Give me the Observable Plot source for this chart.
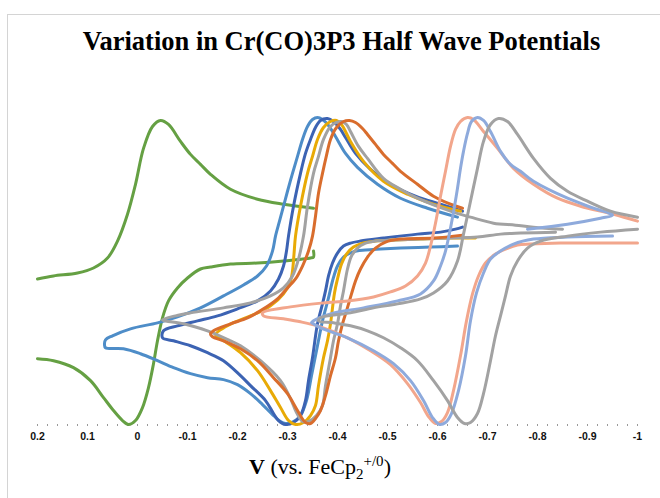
<!DOCTYPE html>
<html>
<head>
<meta charset="utf-8">
<script src="https://cdn.jsdelivr.net/npm/d3@7"></script>
<script src="https://cdn.jsdelivr.net/npm/@observablehq/plot@0.6"></script>
<style>
  html, body { margin: 0; padding: 0; background: #fff; }
  #wrap { position: relative; width: 660px; height: 498px; overflow: hidden; background: #fff; }
  #frame { position: absolute; left: 7px; top: 14px; width: 800px; height: 700px;
           border-left: 1px solid #d4d4d4; border-top: 1px solid #d4d4d4; pointer-events: none; }
  #title { position: relative; height: 70px; box-sizing: border-box; padding-top: 27px; padding-left: 23px;
           text-align: center; font: bold 26.5px/28px "Liberation Serif", "Times New Roman", serif; color: #000; }
  #chart { position: relative; height: 385px; }
  #xlabel { position: relative; height: 43px; box-sizing: border-box; padding-right: 20px; padding-top: 0px; text-align: center;
            font: 22px/24px "Liberation Serif", "Times New Roman", serif; color: #000; }
  #xlabel sub, #xlabel sup { font-size: 15px; line-height: 0; }
</style>
</head>
<body>
<div id="wrap">
  <div id="frame"></div>
  <div id="title">Variation in Cr(CO)3P3 Half Wave Potentials</div>
  <div id="chart"></div>
  <div id="xlabel"><b>V</b> (vs. FeCp<sub>2</sub><sup>+/0</sup>)</div>
</div>
<script>
// Potential (V vs FeCp2+/0), current (arbitrary units)
const greenReturn = [[-0.352,20],[-0.352,14],[-0.346,13],[-0.292,10],[-0.24,8],[-0.186,7],[-0.146,4],[-0.126,2],[-0.1,-7],[-0.08,-17],[-0.062,-30],[-0.05,-47],[-0.04,-70],[-0.032,-93],[-0.022,-117],[-0.01,-137],[0.004,-150],[0.018,-154],[0.03,-150],[0.048,-140],[0.068,-127],[0.094,-110],[0.128,-97],[0.168,-90],[0.2,-88]];
const greenForward = [[0.2,-8],[0.168,-5],[0.12,-2],[0.088,3],[0.06,13],[0.04,30],[0.02,57],[0.004,87],[-0.012,123],[-0.03,145],[-0.046,151],[-0.062,147],[-0.086,130],[-0.106,117],[-0.126,107],[-0.146,97],[-0.186,82],[-0.24,72],[-0.292,67],[-0.352,63]];

const cvLightBlue = [[-0.64,25],[-0.586,24],[-0.526,23],[-0.486,22],[-0.456,21],[-0.43,19],[-0.412,14],[-0.4,5],[-0.39,-10],[-0.382,-27],[-0.37,-50],[-0.358,-80],[-0.348,-105],[-0.338,-130],[-0.326,-145],[-0.312,-151],[-0.296,-153],[-0.286,-151],[-0.27,-144],[-0.25,-134],[-0.226,-123],[-0.2,-114],[-0.172,-109],[-0.14,-107],[-0.106,-103],[-0.072,-97],[-0.04,-90],[-0.006,-83],[0.028,-78],[0.064,-77],[0.066,-74],
  [0.064,-69],[0.05,-65],[0.014,-58],[-0.04,-52],[-0.08,-46],[-0.126,-37],[-0.172,-25],[-0.212,-14],[-0.24,-5],[-0.258,5],[-0.27,20],[-0.276,35],[-0.284,50],[-0.292,65],[-0.3,80],[-0.31,98],[-0.32,115],[-0.33,132],[-0.34,145],[-0.35,152],[-0.36,154],[-0.37,152],[-0.382,146],[-0.396,135],[-0.416,118],[-0.44,104],[-0.48,87],[-0.526,73],[-0.58,63],[-0.64,54]];

const cvDarkBlue = [[-0.65,44],[-0.636,42],[-0.606,39],[-0.56,37],[-0.492,33],[-0.446,30],[-0.426,28],[-0.412,25],[-0.4,18],[-0.39,8],[-0.382,-5],[-0.376,-20],[-0.37,-33],[-0.36,-53],[-0.35,-87],[-0.342,-110],[-0.336,-130],[-0.326,-145],[-0.312,-152],[-0.296,-154],[-0.282,-150],[-0.272,-143],[-0.256,-130],[-0.226,-115],[-0.206,-105],[-0.172,-90],[-0.14,-82],[-0.106,-75],[-0.072,-70],[-0.05,-67],
  [-0.052,-60],[-0.08,-55],[-0.12,-50],[-0.16,-45],[-0.2,-38],[-0.24,-30],[-0.266,-20],[-0.282,-8],[-0.292,5],[-0.298,20],[-0.302,35],[-0.312,65],[-0.326,98],[-0.336,118],[-0.346,132],[-0.356,144],[-0.366,151],[-0.38,153],[-0.392,150],[-0.406,142],[-0.416,134],[-0.436,118],[-0.466,102],[-0.506,87],[-0.556,75],[-0.606,67],[-0.65,60]];

const cvGold = [[-0.676,33],[-0.626,33],[-0.566,32],[-0.516,31],[-0.476,30],[-0.45,28],[-0.432,24],[-0.418,17],[-0.408,7],[-0.4,-8],[-0.394,-22],[-0.386,-53],[-0.38,-70],[-0.372,-87],[-0.362,-115],[-0.356,-135],[-0.346,-145],[-0.332,-152],[-0.316,-154],[-0.302,-150],[-0.286,-137],[-0.266,-120],[-0.24,-100],[-0.206,-82],[-0.176,-71],[-0.156,-64],
  [-0.176,-56],[-0.206,-49],[-0.24,-42],[-0.266,-35],[-0.292,-23],[-0.306,-10],[-0.31,0],[-0.313,17],[-0.316,35],[-0.326,65],[-0.34,98],[-0.35,115],[-0.36,132],[-0.372,144],[-0.386,150],[-0.398,151],[-0.408,147],[-0.426,130],[-0.452,110],[-0.492,90],[-0.54,77],[-0.592,67],[-0.646,60]];

const cvGrayA = [[-0.836,39],[-0.766,38],[-0.726,37],[-0.68,34],[-0.626,33],[-0.566,32],[-0.516,31],[-0.476,30],[-0.456,28],[-0.44,23],[-0.428,15],[-0.42,2],[-0.412,-20],[-0.406,-35],[-0.4,-53],[-0.392,-70],[-0.386,-87],[-0.376,-115],[-0.37,-135],[-0.358,-145],[-0.342,-151],[-0.33,-151],[-0.318,-142],[-0.306,-128],[-0.286,-110],[-0.246,-90],[-0.206,-75],[-0.186,-70],[-0.14,-60],[-0.092,-53],[-0.05,-49],
  [-0.076,-45],[-0.106,-42],[-0.172,-37],[-0.226,-32],[-0.266,-25],[-0.292,-17],[-0.31,-5],[-0.322,12],[-0.332,35],[-0.34,65],[-0.352,98],[-0.362,115],[-0.372,132],[-0.386,145],[-0.398,149],[-0.408,150],[-0.418,147],[-0.426,140],[-0.442,125],[-0.46,113],[-0.492,93],[-0.526,82],[-0.56,73],[-0.626,60],[-0.666,54],[-0.712,48],[-0.756,46],[-0.792,44],[-0.85,42]];

const cvOrange = [[-0.65,36],[-0.592,33],[-0.526,32],[-0.496,29],[-0.476,23],[-0.46,14],[-0.446,2],[-0.436,-10],[-0.428,-23],[-0.418,-40],[-0.41,-53],[-0.402,-70],[-0.396,-87],[-0.386,-105],[-0.376,-125],[-0.366,-140],[-0.356,-148],[-0.346,-153],[-0.336,-152],[-0.32,-140],[-0.3,-123],[-0.272,-107],[-0.24,-90],[-0.206,-78],[-0.172,-70],[-0.15,-66],[-0.146,-63],
  [-0.152,-60],[-0.186,-53],[-0.22,-47],[-0.252,-38],[-0.28,-28],[-0.3,-17],[-0.316,-8],[-0.33,5],[-0.342,20],[-0.35,35],[-0.356,55],[-0.362,78],[-0.37,98],[-0.378,116],[-0.386,132],[-0.398,144],[-0.412,150],[-0.424,151],[-0.436,149],[-0.45,143],[-0.46,137],[-0.476,127],[-0.492,117],[-0.51,108],[-0.526,100],[-0.56,87],[-0.592,75],[-0.626,67],[-0.65,63]];

const cvSalmon = [[-1.0,28],[-0.926,28],[-0.846,28],[-0.786,27],[-0.76,26],[-0.736,22],[-0.716,17],[-0.696,8],[-0.682,-5],[-0.67,-23],[-0.658,-50],[-0.646,-85],[-0.632,-120],[-0.62,-142],[-0.608,-151],[-0.596,-153],[-0.582,-146],[-0.566,-132],[-0.54,-113],[-0.506,-94],[-0.466,-80],[-0.42,-67],[-0.366,-56],[-0.326,-51],[-0.292,-48],[-0.252,-45],
  [-0.25,-42],[-0.306,-36],[-0.372,-32],[-0.42,-30],[-0.472,-26],[-0.506,-21],[-0.536,-15],[-0.56,-5],[-0.576,8],[-0.586,25],[-0.596,48],[-0.606,75],[-0.616,100],[-0.626,125],[-0.636,142],[-0.646,150],[-0.66,154],[-0.672,152],[-0.692,140],[-0.72,123],[-0.752,103],[-0.792,87],[-0.84,73],[-0.886,65],[-0.952,57],[-1.0,50]];

const cvPeriwinkle = [[-0.95,35],[-0.86,34],[-0.792,32],[-0.752,27],[-0.726,20],[-0.706,12],[-0.692,-2],[-0.678,-22],[-0.666,-50],[-0.656,-85],[-0.642,-120],[-0.628,-143],[-0.616,-152],[-0.604,-154],[-0.59,-147],[-0.572,-130],[-0.546,-110],[-0.512,-93],[-0.472,-80],[-0.42,-67],[-0.366,-57],[-0.352,-53],[-0.348,-52],
  [-0.352,-50],[-0.386,-43],[-0.452,-37],[-0.52,-30],[-0.566,-23],[-0.592,-10],[-0.606,5],[-0.616,20],[-0.626,43],[-0.634,65],[-0.64,83],[-0.646,103],[-0.652,120],[-0.66,138],[-0.668,150],[-0.68,154],[-0.692,151],[-0.706,140],[-0.726,120],[-0.746,107],[-0.766,100],[-0.792,90],[-0.86,73],[-0.912,63],[-0.95,56],[-0.926,53],[-0.86,47],[-0.78,42]];

const cvGrayB = [[-1.0,42],[-0.926,39],[-0.86,35],[-0.806,30],[-0.78,23],[-0.76,10],[-0.746,-5],[-0.736,-25],[-0.726,-45],[-0.716,-65],[-0.706,-90],[-0.692,-123],[-0.68,-143],[-0.666,-152],[-0.654,-153],[-0.64,-147],[-0.62,-130],[-0.592,-110],[-0.56,-90],[-0.526,-77],[-0.492,-67],[-0.46,-60],[-0.426,-55],[-0.392,-52],[-0.362,-50],
  [-0.366,-47],[-0.426,-42],[-0.472,-37],[-0.52,-33],[-0.566,-28],[-0.592,-22],[-0.62,-10],[-0.64,10],[-0.652,37],[-0.666,70],[-0.68,103],[-0.692,130],[-0.706,147],[-0.722,153],[-0.74,150],[-0.76,137],[-0.792,113],[-0.826,93],[-0.86,80],[-0.9,70],[-0.946,60],[-1.0,54]];

const tickValues = [0.2, 0.1, 0, -0.1, -0.2, -0.3, -0.4, -0.5, -0.6, -0.7, -0.8, -0.9, -1];
const tickLabels = ["0.2", "0.1", "0", "-0.1", "-0.2", "-0.3", "-0.4", "-0.5", "-0.6", "-0.7", "-0.8", "-0.9", "-1"];

// drawing order and colours
const series = [
  {data: greenReturn, color: "#65a043"},
  {data: greenForward, color: "#65a043"},
  {data: cvLightBlue, color: "#4e8dc8"},
  {data: cvDarkBlue, color: "#3c63b3"},
  {data: cvGold, color: "#e8aa06"},
  {data: cvGrayA, color: "#a2a2a2"},
  {data: cvOrange, color: "#d96d2d"},
  {data: cvSalmon, color: "#f2a68c"},
  {data: cvPeriwinkle, color: "#8eaadc"},
  {data: cvGrayB, color: "#a2a2a2"}
];

const minorTicks = d3.range(0, 61).map(i => +(0.2 - i * 0.02).toFixed(2));

const chart = Plot.plot({
  width: 660,
  height: 385,
  marginLeft: 37,
  marginRight: 23,
  marginTop: 47,
  marginBottom: 31,
  style: {background: "transparent", overflow: "visible"},
  x: {domain: [0.2, -1]},
  y: {domain: [-154, 154], axis: null},
  marks: [
    Plot.axisX({ticks: minorTicks, tickSize: 2, tickFormat: () => "", stroke: "#9a9a9a", strokeWidth: 1}),
    Plot.axisX({ticks: tickValues, tickSize: 0, tickPadding: 8,
      tickFormat: d => tickLabels[tickValues.findIndex(t => Math.abs(t - d) < 1e-9)],
      fontSize: 10.5, fontWeight: "bold", fontFamily: "Liberation Sans, Arial, sans-serif", fill: "#111"}),
    ...series.map(s => Plot.line(s.data, {
      x: d => d[0], y: d => d[1], stroke: s.color, strokeWidth: 3,
      curve: "catmull-rom", strokeLinejoin: "round", strokeLinecap: "round"
    }))
  ]
});
document.getElementById("chart").appendChild(chart);
</script>
</body>
</html>
